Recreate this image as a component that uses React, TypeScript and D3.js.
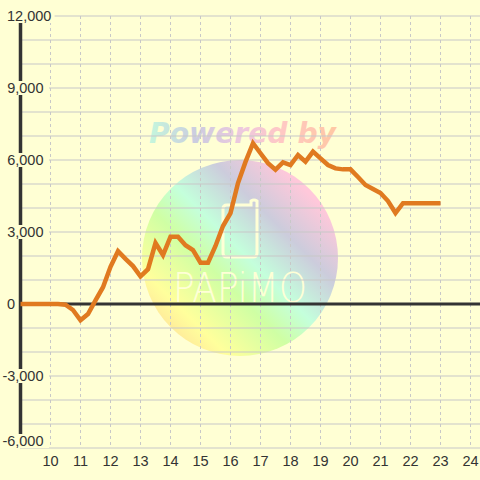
import React from "react";
import * as d3 from "d3";

const hours = [
  9, 9.25, 9.5, 9.75, 10, 10.25, 10.5, 10.75, 11, 11.25, 11.5, 11.75,
  12, 12.25, 12.5, 12.75, 13, 13.25, 13.5, 13.75, 14, 14.25, 14.5, 14.75,
  15, 15.25, 15.5, 15.75, 16, 16.25, 16.5, 16.75, 17, 17.25, 17.5, 17.75,
  18, 18.25, 18.5, 18.75, 19, 19.25, 19.5, 19.75, 20, 20.25, 20.5, 20.75,
  21, 21.25, 21.5, 21.75, 22, 22.25, 22.5, 22.75, 23,
];
const values = [
  0, 0, 0, 0, 0, 0, -30, -250, -680, -420, 150, 700,
  1550, 2200, 1880, 1580, 1150, 1450, 2540, 2040, 2800, 2800, 2450, 2250,
  1720, 1720, 2420, 3250, 3790, 5040, 5920, 6700, 6280, 5870, 5600, 5900,
  5790, 6210, 5930, 6350, 6070, 5790, 5650, 5610, 5610, 5290, 4960, 4790,
  4625, 4290, 3790, 4200, 4200, 4200, 4200, 4200, 4200,
];
const xTicks = [10, 11, 12, 13, 14, 15, 16, 17, 18, 19, 20, 21, 22, 23, 24];
const yTicks = [-6000, -3000, 0, 3000, 6000, 9000, 12000];
const yGrid = d3.range(-6000, 12001, 1000);

const BG = "#FFFFD4";

export default function App() {
  const W = 480, H = 480;
  const x = d3.scaleLinear().domain([9, 24]).range([20.5, 470.5]);
  const y = d3.scaleLinear().domain([-6000, 12000]).range([448, 16]);
  const line = d3.line<number>().x((_, i) => x(hours[i])).y((d) => y(d));
  const fmt = d3
    .formatLocale({ decimal: ".", thousands: ",", grouping: [3], currency: ["$", ""], minus: "-" })
    .format(",");

  const FS = 14.5;
  const labelPos = (v: number) =>
    v === 0 || v === 12000 ? { x: 7, anchor: "start" } : { x: 43.5, anchor: "end" };

  return (
    <svg width={W} height={H} style={{ position: "absolute", left: 0, top: 0 }}
      fontFamily="'Liberation Sans', Arial, sans-serif">
      <defs>
        <linearGradient id="circ" x1="0" y1="1" x2="1" y2="0">
          <stop offset="0" stopColor="#FFC898" />
          <stop offset="0.22" stopColor="#FFFF9C" />
          <stop offset="0.4" stopColor="#CFFFA4" />
          <stop offset="0.52" stopColor="#C4FFDC" />
          <stop offset="0.68" stopColor="#CCCCDC" />
          <stop offset="0.84" stopColor="#FFC8DA" />
          <stop offset="1" stopColor="#FFC8DA" />
        </linearGradient>
        <linearGradient id="pw" x1="0" y1="0" x2="1" y2="0">
          <stop offset="0" stopColor="#C4F7DC" />
          <stop offset="0.25" stopColor="#CCCCE0" />
          <stop offset="0.5" stopColor="#EEC8DE" />
          <stop offset="0.7" stopColor="#FFC8C4" />
          <stop offset="1" stopColor="#FFC8A2" />
        </linearGradient>
      </defs>
      <rect x={0} y={0} width={W} height={H} fill={BG} />

      {/* watermark */}
      <circle cx={240} cy={258} r={98} fill="url(#circ)" />
      <text x={149} y={143} fontFamily="'DejaVu Sans', sans-serif" fontWeight="bold"
        fontStyle="italic" fontSize={28} fill="url(#pw)" textLength={187}
        lengthAdjust="spacingAndGlyphs">Powered by</text>
      <path d="M227,205 H251 V201 Q254,199 257,201 V253 Q257,257 253,257 H227 Q223,257 223,253 V209 Q223,205 227,205 Z"
        fill="none" stroke="#FFFFD6" strokeWidth={3} />
      <text x={173} y={302} fontFamily="'DejaVu Sans', sans-serif" fontWeight={200}
        fontSize={40} fill="#FFFFD6" textLength={134} lengthAdjust="spacingAndGlyphs">PAPiMO</text>

      {/* grid */}
      {yGrid.map((v) => (
        <line key={"h" + v} x1={20} x2={480} y1={y(v)} y2={y(v)} stroke="#C8C8C8" strokeWidth={1.2} />
      ))}
      {xTicks.map((v) => (
        <line key={"v" + v} x1={x(v)} x2={x(v)} y1={16} y2={448} stroke="#C8C8C8"
          strokeWidth={1} strokeDasharray="3,3" />
      ))}
      <line x1={20} x2={480} y1={y(0)} y2={y(0)} stroke="#333" strokeWidth={3} />
      <line x1={20.5} x2={20.5} y1={16} y2={448} stroke="#333" strokeWidth={3.5} />

      {/* y labels */}
      {yTicks.map((v) => {
        const p = labelPos(v);
        const t = fmt(v);
        const wdt = t.length * 7.6;
        const cy = v === -6000 ? y(v) - 7 : y(v);
        const left = p.anchor === "end" ? p.x - wdt : p.x;
        const right = p.anchor === "end" ? p.x : p.x + wdt;
        const rl = Math.max(0, Math.min(left - 1, 2));
        const rr = v === 0 ? right + 2 : Math.max(right + 2, 49);
        return (
          <g key={"yl" + v}>
            <rect x={rl} y={cy - 7} width={rr - rl} height={14} fill={BG} />
            <text x={p.x} y={cy + 5.3} textAnchor={p.anchor} fontSize={FS} fill="#333">{t}</text>
          </g>
        );
      })}
      {/* x labels */}
      {xTicks.map((v) => (
        <text key={"xl" + v} x={x(v)} y={466} textAnchor="middle" fontSize={FS} fill="#333">{v}</text>
      ))}

      <path d={line(values) || ""} fill="none" stroke="#E07A20" strokeWidth={4.5}
        strokeLinejoin="miter" strokeLinecap="butt" />
    </svg>
  );
}
